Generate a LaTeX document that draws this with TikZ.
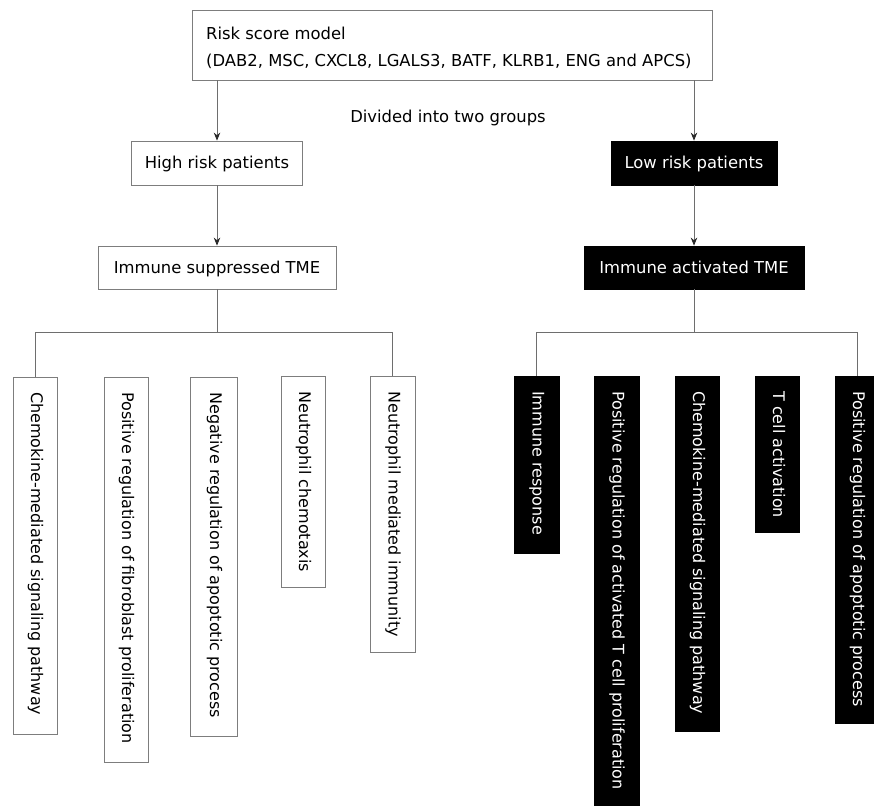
\documentclass[tikz,border=0pt]{standalone}
\usepackage{fontspec}
\setmainfont{DejaVu Sans}
\usetikzlibrary{arrows.meta}
\definecolor{linegray}{RGB}{110,110,110}
\definecolor{boxgray}{RGB}{125,125,125}
\definecolor{tipgray}{RGB}{40,40,40}
\begin{document}
\begin{tikzpicture}[x=1pt,y=-1pt,
  every node/.style={font=\fontsize{16}{27}\selectfont},
  hfont/.style={font=\fontsize{16.4}{27}\selectfont},
  wbox/.style={draw=boxgray, line width=0.8pt, fill=white, inner sep=0pt},
  kbox/.style={draw=black, line width=0.8pt, fill=black, inner sep=0pt},
  htxt/.style={hfont, inner sep=0pt, text height=11.9pt, text depth=0pt},
  vbox/.style={rotate=-90, anchor=west, minimum height=44pt},
  vtxt/.style={rotate=-90, anchor=west, inner sep=0pt, text height=12pt, text depth=4pt},
  conn/.style={draw=linegray, line width=0.8pt},
  arr/.style={conn, -{Stealth[length=8pt,width=6.5pt,color=tipgray]}}
]
\useasboundingbox[fill=white] (0,0) rectangle (874,805);

% top box
\node[wbox, minimum width=520pt, minimum height=70pt] (top) at (452,45) {};
\node[hfont, inner sep=0pt, align=left, anchor=west] (toptxt) at (206,47.5)
  {Risk score model\\(DAB2, MSC, CXCL8, LGALS3, BATF, KLRB1, ENG and APCS)};

\node[htxt] (div) at (448,117) {Divided into two groups};

% second level
\node[wbox, minimum width=171pt, minimum height=44pt] (hr) at (217,163) {};
\node[htxt] (hrt) at (hr) {High risk patients};
\node[kbox, minimum width=166pt, minimum height=44pt] (lr) at (694,163) {};
\node[htxt, text=white] (lrt) at (lr) {Low risk patients};

% third level
\node[wbox, minimum width=238pt, minimum height=43pt] (is) at (217,267.5) {};
\node[htxt] (ist) at (is) {Immune suppressed TME};
\node[kbox, minimum width=220pt, minimum height=43pt] (ia) at (694,267.5) {};
\node[htxt, text=white] (iat) at (ia) {Immune activated TME};

% arrows
\draw[arr] (top.south -| hr.north) -- (hr.north);
\draw[arr] (top.south -| lr.north) -- (lr.north);
\draw[arr] (hr.south) -- (is.north);
\draw[arr] (lr.south) -- (ia.north);

% left leaves
\node[wbox, vbox, minimum width=357pt] (c1) at (35,377) {};
\node[vtxt] (c1t) at ([yshift=-15pt]c1.west) {Chemokine-mediated signaling pathway};
\node[wbox, vbox, minimum width=385pt] (c2) at (126,377) {};
\node[vtxt] (c2t) at ([yshift=-15pt]c2.west) {Positive regulation of fibroblast proliferation};
\node[wbox, vbox, minimum width=359pt, minimum height=47pt] (c3) at (214,377) {};
\node[vtxt] (c3t) at ([yshift=-15pt]c3.west) {Negative regulation of apoptotic process};
\node[wbox, vbox, minimum width=211pt] (c4) at (303,376) {};
\node[vtxt] (c4t) at ([yshift=-15pt]c4.west) {Neutrophil chemotaxis};
\node[wbox, vbox, minimum width=276pt, minimum height=45pt] (c5) at (392.5,376) {};
\node[vtxt] (c5t) at ([yshift=-15pt]c5.west) {Neutrophil mediated immunity};

% right leaves
\node[kbox, vbox, minimum width=177pt, minimum height=45pt] (r1) at (536.5,376) {};
\node[vtxt, text=white] (r1t) at ([yshift=-15pt]r1.west) {Immune response};
\node[kbox, vbox, minimum width=440pt, minimum height=45pt] (r2) at (616.5,376) {};
\node[vtxt, text=white] (r2t) at ([yshift=-15pt]r2.west) {Positive regulation of activated T cell proliferation};
\node[kbox, vbox, minimum width=355pt] (r3) at (697,376) {};
\node[vtxt, text=white] (r3t) at ([yshift=-15pt]r3.west) {Chemokine-mediated signaling pathway};
\node[kbox, vbox, minimum width=156pt] (r4) at (777,376) {};
\node[vtxt, text=white] (r4t) at ([yshift=-15pt]r4.west) {T cell activation};
\node[kbox, vbox, minimum width=347pt] (r5) at (857,376) {};
\node[vtxt, text=white] (r5t) at ([yshift=-15pt]r5.west) {Positive regulation of apoptotic process};

% tree connectors
\coordinate (lj) at (217,332);
\coordinate (rj) at (694,332);
\draw[conn] (is.south) -- (lj);
\draw[conn] (lj) -| (c1.west);
\draw[conn] (lj) -| (c5.west);
\draw[conn] (ia.south) -- (rj);
\draw[conn] (rj) -| (r1.west);
\draw[conn] (rj) -| (r5.west);
\end{tikzpicture}
\end{document}
